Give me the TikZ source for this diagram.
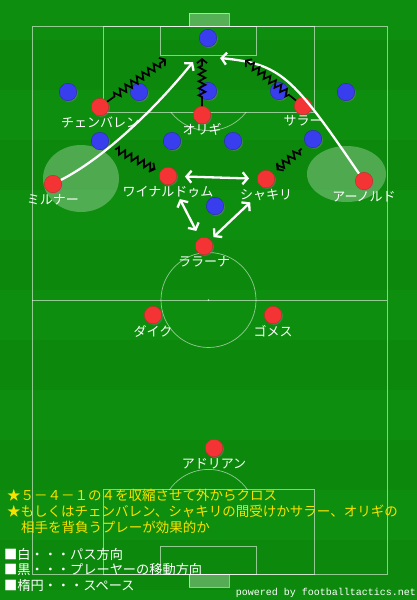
\documentclass[tikz,border=0pt]{standalone}
\usepackage{fontspec}
\setmainfont{Noto Sans CJK JP}
\newfontfamily\creditfont{Liberation Mono}
\usetikzlibrary{arrows.meta,decorations.pathmorphing,shadows}
\definecolor{pitchgreen}{RGB}{14,142,14}
\definecolor{stripegreen}{RGB}{8,128,8}
\definecolor{redplayer}{RGB}{244,52,52}
\definecolor{blueplayer}{RGB}{56,62,238}
\definecolor{noteyellow}{RGB}{250,226,0}
\begin{document}
\begin{tikzpicture}
[x=1pt,y=-1pt,
 reddecorate/.style={shape=circle,minimum size=17.5pt,inner sep=0pt,fill=redplayer,draw=redplayer!80!black,thin,%
   drop shadow={opacity=0.45,shadow xshift=1.2pt,shadow yshift=-1.2pt}},
 bluedecorate/.style={reddecorate,fill=blueplayer,draw=blueplayer!70!black},
 namedecorate/.style={text=white,font=\fontsize{13}{13}\selectfont,inner sep=1pt},
 linedecorate/.style={draw=white,draw opacity=0.55,line width=0.7pt},
 spacedecorate/.style={fill=white,fill opacity=0.28},
 passdecorate/.style={draw=white,line width=2.3pt,-{Straight Barb[length=5pt,width=12pt]}},
 swapdecorate/.style={draw=white,line width=2.3pt,{Straight Barb[length=5pt,width=12pt]}-{Straight Barb[length=5pt,width=12pt]}},
 movedecorate/.style={draw=black,line width=1.7pt,-{Straight Barb[length=4pt,width=10pt]},%
   decorate,decoration={zigzag,segment length=7pt,amplitude=3.4pt,pre length=9pt,post length=6pt}},
 notedecorate/.style={text=noteyellow,font=\fontsize{13.5}{14}\selectfont,anchor=west,inner sep=0pt},
 legenddecorate/.style={text=white,font=\fontsize{13.2}{14}\selectfont,anchor=west,inner sep=0pt}]
\useasboundingbox (0,0) rectangle (417,600);
% pitch
\fill[pitchgreen] (0,0) rectangle (417,600);
\foreach \y in {40,140,240,340,440,540}
  \fill[stripegreen,opacity=0.3] (0,\y) rectangle (417,\y+50);
\fill[white,opacity=0.3] (189,13) rectangle (229,26);
\fill[white,opacity=0.3] (189,574) rectangle (229,587);
\draw[linedecorate] (189,13) rectangle (229,26);
\draw[linedecorate] (189,574) rectangle (229,587);
\draw[linedecorate] (32,26) rectangle (387,574);
\draw[linedecorate] (103,26) rectangle (314,112);
\draw[linedecorate] (160,26) rectangle (256,55);
\draw[linedecorate] (103,489) rectangle (314,574);
\draw[linedecorate] (160,546) rectangle (256,574);
\draw[linedecorate] (32,300) -- (387,300);
\draw[linedecorate] (208.5,300) circle[radius=47.5pt];
\fill[white,opacity=0.6] (208.5,300) circle[radius=1pt];
\begin{scope}
  \clip (100,112) rectangle (320,140);
  \draw[linedecorate] (208.5,83) circle[radius=47.6pt];
\end{scope}
\begin{scope}
  \clip (100,460) rectangle (320,489);
  \draw[linedecorate] (208.5,517) circle[radius=47.6pt];
\end{scope}
% spaces
\fill[spacedecorate] (81,178.5) ellipse[x radius=38pt,y radius=33.5pt];
\fill[spacedecorate] (346.5,174) ellipse[x radius=39.5pt,y radius=28pt];
% nodes or vertices
\node (keeper) at (208,38) [bluedecorate] {};
\node (b1) at (68,92) [bluedecorate] {};
\node (b2) at (139,92) [bluedecorate] {};
\node (b3) at (208,91) [bluedecorate] {};
\node (b4) at (279,91) [bluedecorate] {};
\node (b5) at (346,92) [bluedecorate] {};
\node (b6) at (100,141) [bluedecorate] {};
\node (b7) at (172,141) [bluedecorate] {};
\node (b8) at (233,141) [bluedecorate] {};
\node (b9) at (313,139) [bluedecorate] {};
\node (b10) at (215,206) [bluedecorate] {};
\node (chamberlain) at (100,107) [reddecorate,label={[namedecorate]below:チェンバレン}] {};
\node (origi) at (202,115) [reddecorate,label={[namedecorate,label distance=-2pt]below:オリギ}] {};
\node (salah) at (303,106) [reddecorate,label={[namedecorate,label distance=-1pt]below:サラー}] {};
\node (milner) at (53,184) [reddecorate,label={[namedecorate]below:ミルナー}] {};
\node (wijnaldum) at (168,176) [reddecorate,label={[namedecorate]below:ワイナルドゥム}] {};
\node (shaqiri) at (266,179) [reddecorate,label={[namedecorate]below:シャキリ}] {};
\node (arnold) at (364,181) [reddecorate,label={[namedecorate]below:アーノルド}] {};
\node (lallana) at (204,246) [reddecorate,label={[namedecorate]below:ララーナ}] {};
\node (dijk) at (153,315) [reddecorate,label={[namedecorate]below:ダイク}] {};
\node (gomez) at (273,315) [reddecorate,label={[namedecorate]below:ゴメス}] {};
\node (adrian) at (214,448) [reddecorate,label={[namedecorate]below:アドリアン}] {};
\coordinate (cross1) at (193,62);
\coordinate (cross2) at (220,58);
\coordinate (run1) at (166,59);
\coordinate (run2) at (202,58);
\coordinate (run3) at (245,60);
% edges or lines
\draw[passdecorate] (milner) .. controls (100,160) and (150,115) .. (cross1);
\draw[passdecorate] (arnold) .. controls (292,75) and (280,64) .. (cross2);
\path
(wijnaldum) edge[swapdecorate,shorten <=8pt,shorten >=8pt] (shaqiri)
(wijnaldum) edge[swapdecorate,shorten <=17pt,shorten >=8pt] (lallana)
(shaqiri.east) edge[swapdecorate,shorten <=34pt,shorten >=4pt] (lallana);
\path
(chamberlain) edge[movedecorate] (run1)
(origi) edge[movedecorate] (run2)
(salah) edge[movedecorate] (run3)
(b6) edge[movedecorate,shorten <=8pt,shorten >=5pt] (wijnaldum)
(b9) edge[movedecorate,shorten <=6pt,shorten >=5pt] (shaqiri);
% notes
\node (note1) at (7,495) [notedecorate] {★５－４－１の４を収縮させて外からクロス};
\node (note2) at (7,511.5) [notedecorate] {★もしくはチェンバレン、シャキリの間受けかサラー、オリギの};
\node (note3) at (21,527) [notedecorate] {相手を背負うプレーが効果的か};
\node (legend1) at (4,554) [legenddecorate] {■白・・・パス方向};
\node (legend2) at (4,569.5) [legenddecorate] {■黒・・・プレーヤーの移動方向};
\node (legend3) at (4,585.5) [legenddecorate] {■楕円・・・スペース};
\node (credit) at (416,593) [anchor=east,inner sep=0pt,text=white,font=\creditfont\fontsize{10}{10}\selectfont] {powered by footballtactics.net};
\end{tikzpicture}
\end{document}
